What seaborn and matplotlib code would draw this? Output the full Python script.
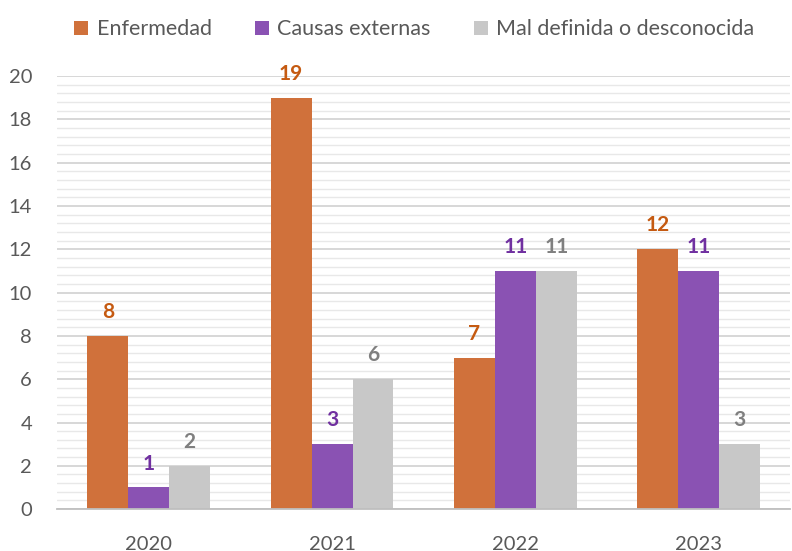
import matplotlib
matplotlib.use("Agg")
import matplotlib.pyplot as plt
from matplotlib.ticker import MultipleLocator
import seaborn as sns
import pandas as pd

years = ["2020", "2021", "2022", "2023"]
series = ["Enfermedad", "Causas externas", "Mal definida o desconocida"]
enfermedad = [8, 19, 7, 12]
causas_externas = [1, 3, 11, 11]
mal_definida = [2, 6, 11, 3]

bar_colors = ["#D0713B", "#8A52B3", "#C8C8C8"]
label_colors = ["#C55A11", "#7030A0", "#7F7F7F"]

rows = []
for s, vals in zip(series, [enfermedad, causas_externas, mal_definida]):
    for y, v in zip(years, vals):
        rows.append({"Año": y, "Serie": s, "Valor": v})
df = pd.DataFrame(rows)

sns.set_style("white")
plt.rcParams["font.family"] = ["Lato", "DejaVu Sans"]

fig = plt.figure(figsize=(7.92, 5.51), dpi=100)
ax = fig.add_axes([0.072, 0.076, 0.926, 0.786])

sns.barplot(data=df, x="Año", y="Valor", hue="Serie", hue_order=series,
            palette=bar_colors, width=0.67, saturation=1, ax=ax, legend=True,
            linewidth=0, edgecolor="none")

for cont, col in zip(ax.containers, label_colors):
    ax.bar_label(cont, padding=10, color=col, fontsize=15, fontweight="bold")

ax.set_ylim(0, 20)
ax.yaxis.set_major_locator(MultipleLocator(2))
ax.yaxis.set_minor_locator(MultipleLocator(0.4))
ax.grid(axis="y", which="major", color="#D4D4D4", linewidth=1.3)
ax.grid(axis="y", which="minor", color="#E8E8E8", linewidth=1.0)
ax.set_axisbelow(True)
for sp in ["top", "right", "left"]:
    ax.spines[sp].set_visible(False)
ax.spines["bottom"].set_color("#BFBFBF")
ax.spines["bottom"].set_linewidth(1.3)
ax.tick_params(axis="both", which="both", length=0, labelsize=14.5, colors="#595959")
ax.tick_params(axis="y", pad=18)
ax.tick_params(axis="x", pad=19)
ax.set_xlabel("")
ax.set_ylabel("")

h, l = ax.get_legend_handles_labels()
ax.legend_.remove()
fig.legend(h, l, loc="upper center", bbox_to_anchor=(0.523, 1.0), ncol=3, frameon=False,
           fontsize=15.5, handlelength=0.65, handleheight=0.65, handletextpad=0.4,
           columnspacing=2.0, labelcolor="#595959")

fig.savefig("out.png", dpi=100)
